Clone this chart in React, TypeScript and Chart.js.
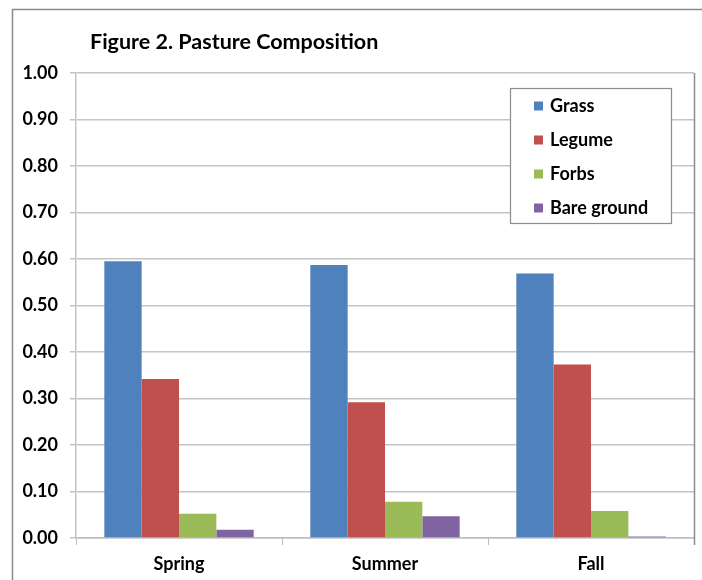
import React, { useEffect, useRef } from "react";
import { Chart, registerables } from "chart.js";

Chart.register(...registerables);

const seasons = ["Spring", "Summer", "Fall"];
const grass = [0.595, 0.587, 0.569];
const legume = [0.342, 0.292, 0.373];
const forbs = [0.052, 0.078, 0.058];
const bareGround = [0.018, 0.047, 0.003];
const seriesNames = ["Grass", "Legume", "Forbs", "Bare ground"];
const seriesColors = ["#4F81BD", "#C0504D", "#9BBB59", "#8064A2"];
const titleText = "Figure 2. Pasture Composition";

const FONT = "Lato, 'Open Sans', sans-serif";

const framePlugin = {
  id: "frame",
  beforeDraw(chart: any) {
    const ctx = chart.ctx;
    ctx.save();
    ctx.fillStyle = "#ffffff";
    ctx.fillRect(0, 0, chart.width, chart.height);
    ctx.strokeStyle = "#8a8a8a";
    ctx.lineWidth = 1.5;
    ctx.strokeRect(12.5, 9.5, chart.width + 20, chart.height + 20);
    ctx.restore();
  },
  afterDraw(chart: any) {
    const ctx = chart.ctx;
    const area = chart.chartArea;
    ctx.save();
    // right edge of the plot area
    ctx.strokeStyle = "#8c8c8c";
    ctx.lineWidth = 1.5;
    ctx.beginPath();
    ctx.moveTo(Math.round(area.right) + 0.5, area.top);
    ctx.lineTo(Math.round(area.right) + 0.5, area.bottom + 7);
    ctx.stroke();

    // title
    ctx.fillStyle = "#000";
    ctx.font = `bold 21.5px ${FONT}`;
    ctx.textAlign = "left";
    ctx.textBaseline = "middle";
    ctx.fillText(titleText, 90, 42);

    // legend box
    const bx = 510.5, by = 88.5, bw = 161, bh = 135;
    ctx.strokeStyle = "#8c8c8c";
    ctx.lineWidth = 1.2;
    ctx.fillStyle = "#fff";
    ctx.fillRect(bx, by, bw, bh);
    ctx.strokeRect(bx, by, bw, bh);
    ctx.font = `bold 18px ${FONT}`;
    chart.data.datasets.forEach((ds: any, i: number) => {
      const cy = 106 + i * 34;
      ctx.fillStyle = ds.backgroundColor;
      ctx.fillRect(534, cy - 4.5, 9, 9);
      ctx.fillStyle = "#000";
      ctx.fillText(ds.label, 550, cy);
    });
    ctx.restore();
  },
};

export default function App() {
  const ref = useRef<HTMLCanvasElement>(null);

  useEffect(() => {
    if (!ref.current) return;
    const values = [grass, legume, forbs, bareGround];
    const chart = new Chart(ref.current, {
      type: "bar",
      data: {
        labels: seasons,
        datasets: seriesNames.map((name, i) => ({
          label: name,
          data: values[i],
          backgroundColor: seriesColors[i],
          borderWidth: 0,
          barPercentage: 1,
          categoryPercentage: 0.725,
        })),
      },
      options: {
        responsive: false,
        animation: false,
        devicePixelRatio: 1,
        layout: { padding: { top: 73, right: 8, left: 0, bottom: 0 } },
        plugins: {
          legend: { display: false },
          title: { display: false },
          tooltip: { enabled: false },
        },
        scales: {
          x: {
            grid: {
              offset: true,
              drawOnChartArea: false,
              drawTicks: true,
              tickLength: 7,
              tickColor: "#bdbdbd",
            },
            border: { color: "#bdbdbd", width: 1.5 },
            ticks: {
              color: "#000",
              font: { family: FONT, size: 18, weight: "bold" },
              padding: 8,
            },
            afterFit(scale: any) {
              scale.height = 42;
            },
          },
          y: {
            min: 0,
            max: 1,
            grid: {
              color: "#c4c4c4",
              lineWidth: 1.5,
              tickLength: 6,
              tickColor: "#c4c4c4",
            },
            border: { color: "#c4c4c4", width: 1.5 },
            ticks: {
              stepSize: 0.1,
              color: "#000",
              font: { family: FONT, size: 18, weight: "bold" },
              padding: 12,
              callback: (v: any) => Number(v).toFixed(2),
            },
            afterFit(scale: any) {
              scale.width = 76;
            },
          },
        },
      },
      plugins: [framePlugin],
    });
    return () => chart.destroy();
  }, []);

  return (
    <div style={{ position: "absolute", left: 0, top: 0, width: 702, height: 580 }}>
      <canvas ref={ref} width={702} height={580} style={{ display: "block" }} />
    </div>
  );
}
